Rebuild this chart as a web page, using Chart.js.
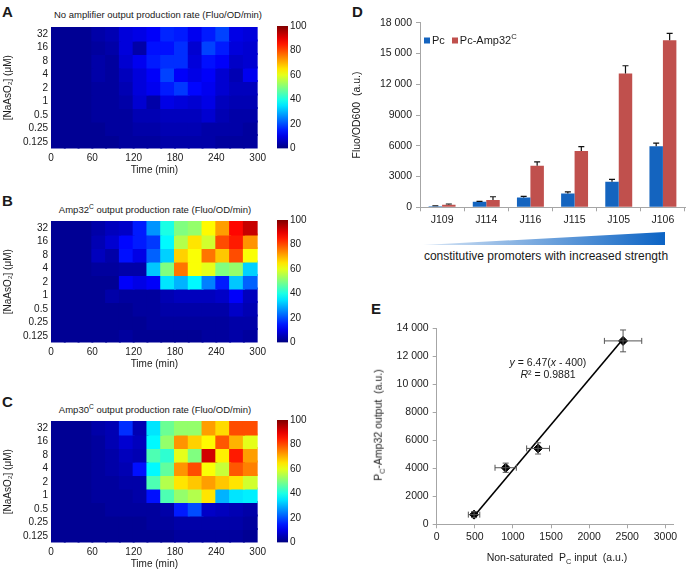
<!DOCTYPE html>
<html>
<head>
<meta charset="utf-8">
<script src="https://cdn.jsdelivr.net/npm/chart.js@4.4.1/dist/chart.umd.min.js"></script>
<style>
  body { margin: 0; background: #fff; font-family: 'Liberation Sans', Arial, sans-serif; color: #1a1a1a; }
  #fig { position: relative; width: 686px; height: 572px; overflow: hidden; }
  canvas, .t { position: absolute; }
  .t { white-space: nowrap; line-height: 1; transform: translate(-50%, -50%); }
  .letter { font-weight: bold; font-size: 15px; transform: none; }
  .ttl { font-size: 9.5px; }
  .rot { transform: translate(-50%, -50%) rotate(-90deg); }
  .leg { transform: translateY(-50%); font-size: 11px; }
  .sq { display: inline-block; width: 6px; height: 6px; margin-right: 2px; }
  sup, sub { font-size: 70%; line-height: 0; }
  #wedge { position: absolute; left: 423px; top: 232px; width: 242px; height: 13px;
    background: linear-gradient(to right, #d8e6f6, #0b63c4); clip-path: polygon(0 100%, 100% 0, 100% 100%); }
</style>
</head>
<body>
<div id="fig">
  <div class="t letter" style="left:2px;top:4px">A</div>
  <div class="t ttl" style="left:158px;top:15px">No amplifier output production rate (Fluo/OD/min)</div>
  <canvas id="heatA" width="270" height="160" style="left:0;top:18px"></canvas>
  <canvas id="barA" width="40" height="160" style="left:270px;top:18px"></canvas>

  <div class="t letter" style="left:2px;top:193px">B</div>
  <div class="t ttl" style="left:155px;top:210px">Amp32<sup>C</sup> output production rate (Fluo/OD/min)</div>
  <canvas id="heatB" width="270" height="160" style="left:0;top:212px"></canvas>
  <canvas id="barB" width="40" height="160" style="left:270px;top:212px"></canvas>

  <div class="t letter" style="left:2px;top:394px">C</div>
  <div class="t ttl" style="left:155px;top:410px">Amp30<sup>C</sup> output production rate (Fluo/OD/min)</div>
  <canvas id="heatC" width="270" height="160" style="left:0;top:412px"></canvas>
  <canvas id="barC" width="40" height="160" style="left:270px;top:412px"></canvas>

  <div class="t letter" style="left:352px;top:4px">D</div>
  <canvas id="promoters" width="346" height="230" style="left:340px;top:0"></canvas>
  <div class="t leg" style="left:424px;top:40px"><span class="sq" style="background:#1464bf"></span>Pc<span class="sq" style="background:#c0504d;margin-left:7px"></span>Pc-Amp32<sup>C</sup></div>
  <div id="wedge"></div>
  <div class="t" style="left:546px;top:256px;font-size:12px">constitutive promoters with increased strength</div>

  <div class="t letter" style="left:371px;top:301px">E</div>
  <canvas id="linear" width="346" height="262" style="left:340px;top:310px"></canvas>
  <div class="t rot" style="left:378px;top:425px;font-size:10.5px">P<sub>C</sub>-Amp32 output&nbsp; (a.u.)</div>
  <div class="t" style="left:557px;top:557px;font-size:10.5px">Non-saturated&nbsp; P<sub>C</sub> input&nbsp; (a.u.)</div>
  <div class="t" style="left:548px;top:362px;font-size:10.5px"><i>y</i> = 6.47(<i>x</i> - 400)</div>
  <div class="t" style="left:548px;top:374px;font-size:10.5px"><i>R</i>² = 0.9881</div>
</div>

<script>
// heatmaps: 15 time bins of 20 min, rows from 32 uM (top) down to 0.125 uM
const times = [0, 20, 40, 60, 80, 100, 120, 140, 160, 180, 200, 220, 240, 260, 280];
const concentrations = ['32', '16', '8', '4', '2', '1', '0.5', '0.25', '0.125'];

const rateNoAmp = [
  [2, 2, 2, 4, 5, 9, 10, 12, 16, 15, 11, 15, 19, 10, 9],
  [2, 2, 2, 3, 4, 9, 4, 14, 14, 17, 8, 19, 15, 9, 8],
  [2, 2, 2, 4, 3, 8, 11, 15, 17, 17, 9, 14, 12, 7, 8],
  [2, 2, 2, 4, 3, 6, 9, 12, 19, 12, 10, 12, 8, 5, 11],
  [2, 2, 2, 3, 3, 5, 9, 11, 15, 18, 13, 11, 8, 6, 6],
  [2, 2, 2, 3, 3, 4, 8, 4, 10, 9, 8, 10, 6, 5, 5],
  [2, 2, 2, 3, 3, 3, 5, 5, 6, 6, 6, 8, 5, 4, 4],
  [2, 2, 2, 2, 3, 3, 4, 4, 5, 5, 5, 4, 4, 4, 3],
  [2, 2, 2, 2, 2, 3, 3, 3, 4, 4, 4, 4, 3, 3, 3]
];
const rateAmp32 = [
  [2, 2, 2, 4, 6, 7, 15, 27, 40, 50, 52, 63, 72, 87, 93],
  [2, 2, 2, 5, 8, 13, 15, 18, 37, 55, 65, 58, 80, 85, 73],
  [2, 2, 2, 6, 4, 14, 10, 22, 33, 67, 62, 76, 68, 80, 62],
  [2, 2, 2, 3, 3, 4, 4, 32, 50, 76, 62, 60, 50, 52, 33],
  [2, 2, 2, 2, 2, 12, 10, 12, 35, 30, 37, 25, 15, 32, 22],
  [2, 2, 2, 2, 4, 3, 3, 3, 5, 6, 6, 6, 7, 12, 6],
  [2, 2, 2, 2, 2, 2, 3, 3, 4, 4, 4, 4, 4, 7, 5],
  [2, 2, 2, 2, 2, 2, 2, 3, 3, 3, 3, 3, 3, 4, 4],
  [2, 2, 2, 2, 2, 3, 2, 2, 2, 2, 2, 3, 3, 4, 3]
];
const rateAmp30 = [
  [2, 2, 2, 4, 5, 17, 5, 35, 48, 52, 52, 72, 66, 80, 80],
  [2, 2, 2, 3, 5, 8, 6, 37, 52, 73, 67, 63, 79, 70, 60],
  [2, 2, 2, 3, 4, 6, 5, 45, 42, 60, 50, 92, 64, 85, 72],
  [2, 2, 2, 3, 4, 5, 14, 37, 47, 73, 80, 62, 57, 79, 75],
  [2, 2, 2, 3, 3, 4, 4, 45, 55, 65, 68, 72, 68, 65, 58],
  [2, 2, 2, 3, 3, 3, 4, 14, 45, 52, 55, 65, 30, 35, 36],
  [2, 2, 2, 2, 3, 3, 3, 3, 4, 15, 20, 7, 6, 5, 4],
  [2, 2, 2, 2, 2, 2, 2, 3, 3, 4, 4, 4, 4, 4, 3],
  [2, 2, 2, 2, 2, 2, 2, 2, 2, 3, 3, 3, 3, 3, 2]
];

// panel D
const promoters = ['J109', 'J114', 'J116', 'J115', 'J105', 'J106'];
const pcValues = [110, 530, 950, 1350, 2500, 5950];
const pcErrors = [40, 50, 120, 150, 230, 300];
const ampValues = [250, 700, 4050, 5500, 13050, 16300];
const ampErrors = [70, 330, 380, 420, 750, 650];

// panel E
const inputX = [490, 905, 1330, 2445];
const inputXErr = [75, 140, 150, 245];
const outputY = [690, 4040, 5420, 13100];
const outputYErr = [210, 330, 400, 780];
const inputTicks = [0, 500, 1000, 1500, 2000, 2500, 3000];
const fitSlope = 6.47, fitX0 = 400;
const fitRange = [470, 2445];

Chart.defaults.font.family = "'Liberation Sans', Arial, sans-serif";
Chart.defaults.color = '#1a1a1a';
Chart.defaults.animation = false;
Chart.defaults.responsive = false;
Chart.defaults.devicePixelRatio = 1;
Chart.defaults.events = [];
Chart.defaults.plugins.tooltip.enabled = false;

function clamp(v) { return Math.max(0, Math.min(1, v)); }
function jet(v) {
  const x = v / 100;
  const r = clamp(1.5 - Math.abs(4 * x - 3));
  const g = clamp(1.5 - Math.abs(4 * x - 2));
  const b = clamp(1.5 - Math.abs(4 * x - 1));
  return `rgb(${Math.round(r * 255)},${Math.round(g * 255)},${Math.round(b * 255)})`;
}

function makeHeatmap(id, matrix) {
  const n = concentrations.length;
  new Chart(document.getElementById(id), {
    type: 'bar',
    data: {
      datasets: matrix.map((row, k) => ({
        data: times.map((t, j) => ({ x: t + 10, y: [n - 1 - k, n - k] })),
        backgroundColor: row.map(jet),
        borderWidth: 0,
        inflateAmount: 1,
        grouped: false,
        barPercentage: 1,
        categoryPercentage: 1
      }))
    },
    options: {
      layout: { padding: { top: 7.5, right: 5 } },
      plugins: { legend: { display: false } },
      scales: {
        x: {
          type: 'linear', min: 0, max: 300, offset: false,
          grid: { display: false, drawTicks: false, offset: false },
          border: { display: false },
          ticks: { stepSize: 60, padding: 4, maxRotation: 0, font: { size: 10 } },
          title: { display: true, text: 'Time (min)', font: { size: 10 }, padding: { top: 0, bottom: 2 } },
          afterFit: s => { s.height = 29.5; }
        },
        y: {
          type: 'linear', min: 0, max: n,
          grid: { display: false, drawTicks: false },
          border: { display: false },
          afterBuildTicks: s => { s.ticks = concentrations.map((c, k) => ({ value: k + 0.5 })); },
          ticks: { padding: 3, font: { size: 10 }, callback: v => concentrations[Math.round(n - 0.5 - v)] },
          title: { display: true, text: '[NaAsO₂] (μM)', font: { size: 10 }, padding: { top: 2, bottom: 0 } },
          afterFit: s => { s.width = 51; }
        }
      }
    }
  });
}

function makeColorbar(id) {
  new Chart(document.getElementById(id), {
    type: 'bar',
    data: {
      labels: ['scale'],
      datasets: [{
        data: [[0, 100]],
        barPercentage: 1,
        categoryPercentage: 1,
        backgroundColor: ctx => {
          const a = ctx.chart.chartArea;
          if (!a) return null;
          const g = ctx.chart.ctx.createLinearGradient(0, a.bottom, 0, a.top);
          for (let i = 0; i <= 20; i++) g.addColorStop(i / 20, jet(i * 5));
          return g;
        }
      }]
    },
    options: {
      layout: { padding: { top: 7.5, bottom: 29.5, left: 7 } },
      plugins: { legend: { display: false } },
      scales: {
        x: { display: false },
        y: {
          position: 'right', min: 0, max: 100,
          grid: { display: false, drawTicks: false },
          border: { display: false },
          ticks: { stepSize: 20, padding: 2, font: { size: 10 } },
          afterFit: s => { s.width = 22; }
        }
      }
    }
  });
}

makeHeatmap('heatA', rateNoAmp);
makeHeatmap('heatB', rateAmp32);
makeHeatmap('heatC', rateAmp30);
makeColorbar('barA');
makeColorbar('barB');
makeColorbar('barC');

function spaced(v) {
  return v >= 10000 ? String(v).replace(/(\d)(?=(\d{3})+$)/g, '$1 ') : String(v);
}

const barErrors = {
  id: 'barErrors',
  afterDatasetsDraw(chart) {
    const c = chart.ctx, y = chart.scales.y;
    c.save();
    c.strokeStyle = '#111';
    c.lineWidth = 1.2;
    chart.data.datasets.forEach((ds, i) => {
      chart.getDatasetMeta(i).data.forEach((bar, j) => {
        const top = y.getPixelForValue(ds.data[j] + ds.errors[j]);
        c.beginPath();
        c.moveTo(bar.x, bar.y);
        c.lineTo(bar.x, top);
        c.moveTo(bar.x - 3, top);
        c.lineTo(bar.x + 3, top);
        c.stroke();
      });
    });
    c.restore();
  }
};

new Chart(document.getElementById('promoters'), {
  type: 'bar',
  data: {
    labels: promoters,
    datasets: [
      { label: 'Pc', data: pcValues, errors: pcErrors, backgroundColor: '#1464bf' },
      { label: 'Pc-Amp32C', data: ampValues, errors: ampErrors, backgroundColor: '#c0504d' }
    ]
  },
  options: {
    categoryPercentage: 0.61,
    barPercentage: 1,
    layout: { padding: { top: 22.7, right: 1, left: 9 } },
    plugins: { legend: { display: false } },
    scales: {
      x: {
        grid: { display: true, drawOnChartArea: false, tickLength: 4, color: '#a6a6a6' },
        border: { color: '#a6a6a6' },
        ticks: { padding: 3, font: { size: 10.5 } },
        afterFit: s => { s.height = 22.7; }
      },
      y: {
        min: 0, max: 18000,
        grid: { display: true, drawOnChartArea: false, tickLength: 4, color: '#a6a6a6' },
        border: { color: '#a6a6a6' },
        ticks: { stepSize: 3000, padding: 4, font: { size: 10.5 }, callback: v => spaced(v) },
        title: { display: true, text: 'Fluo/OD600  (a.u.)', font: { size: 10.5 }, padding: { top: 2, bottom: 0 } },
        afterFit: s => { s.width = 71; }
      }
    }
  },
  plugins: [barErrors]
});

const xyErrors = {
  id: 'xyErrors',
  afterDatasetsDraw(chart) {
    const c = chart.ctx, x = chart.scales.x, y = chart.scales.y;
    c.save();
    c.strokeStyle = '#555';
    c.lineWidth = 1;
    inputX.forEach((v, i) => {
      const px = x.getPixelForValue(v), py = y.getPixelForValue(outputY[i]);
      const x0 = x.getPixelForValue(v - inputXErr[i]), x1 = x.getPixelForValue(v + inputXErr[i]);
      const y0 = y.getPixelForValue(outputY[i] - outputYErr[i]), y1 = y.getPixelForValue(outputY[i] + outputYErr[i]);
      c.beginPath();
      c.moveTo(x0, py); c.lineTo(x1, py);
      c.moveTo(x0, py - 3); c.lineTo(x0, py + 3);
      c.moveTo(x1, py - 3); c.lineTo(x1, py + 3);
      c.moveTo(px, y0); c.lineTo(px, y1);
      c.moveTo(px - 3, y0); c.lineTo(px + 3, y0);
      c.moveTo(px - 3, y1); c.lineTo(px + 3, y1);
      c.stroke();
    });
    c.restore();
  }
};

new Chart(document.getElementById('linear'), {
  type: 'scatter',
  data: {
    datasets: [
      {
        data: inputX.map((v, i) => ({ x: v, y: outputY[i] })),
        pointStyle: 'rectRot', pointRadius: 4.5,
        backgroundColor: '#000', borderColor: '#000'
      },
      {
        type: 'line',
        data: fitRange.map(v => ({ x: v, y: fitSlope * (v - fitX0) })),
        borderColor: '#000', borderWidth: 1.6, pointRadius: 0, fill: false
      }
    ]
  },
  options: {
    layout: { padding: { top: 18.3, right: 13 } },
    plugins: { legend: { display: false } },
    scales: {
      x: {
        type: 'linear', min: 0, max: 3100,
        grid: { display: true, drawOnChartArea: false, tickLength: 4, color: '#a6a6a6' },
        border: { color: '#a6a6a6' },
        afterBuildTicks: s => { s.ticks = inputTicks.map(v => ({ value: v })); },
        ticks: { padding: 3, maxRotation: 0, autoSkip: false, font: { size: 10.5 }, callback: v => String(v) },
        afterFit: s => { s.height = 47.7; }
      },
      y: {
        min: 0, max: 14000,
        grid: { display: true, drawOnChartArea: false, tickLength: 4, color: '#a6a6a6' },
        border: { color: '#a6a6a6' },
        ticks: { stepSize: 2000, padding: 4, font: { size: 10.5 }, callback: v => spaced(v) },
        afterFit: s => { s.width = 96.7; }
      }
    }
  },
  plugins: [xyErrors]
});
</script>
</body>
</html>
